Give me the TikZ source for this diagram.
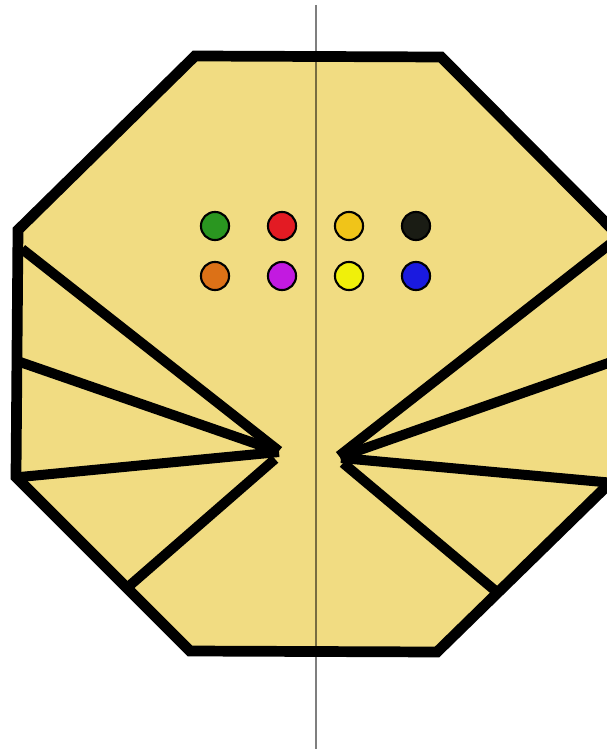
\documentclass[tikz,border=0pt]{standalone}
\definecolor{paper}{HTML}{F1DC82}
\definecolor{cgreen}{HTML}{2A9620}
\definecolor{cred}{HTML}{E31B23}
\definecolor{cgold}{HTML}{F0C419}
\definecolor{cblack}{HTML}{1A1C14}
\definecolor{corange}{HTML}{DC7117}
\definecolor{cmagenta}{HTML}{C21AE0}
\definecolor{cyellow}{HTML}{F0F00A}
\definecolor{cblue}{HTML}{1A1AE0}
\begin{document}
\begin{tikzpicture}[x=0.02cm,y=-0.02cm,
    edge/.style={line width=6.1pt,line join=miter},
    fold/.style={line width=5.7pt},
    dot/.style={circle,draw=black,line width=1.2pt,minimum size=16pt,inner sep=0pt}]
    \useasboundingbox (0,0) rectangle (607,749);
    \clip (0,0) rectangle (607,749);
    % paper
    \fill[paper] (195,56) -- (441,57) -- (615,232) -- (614,479) -- (437,652) -- (190,651) -- (16,477) -- (18,230) -- cycle;
    % centre line
    \draw[black,opacity=0.5,line width=1.4pt] (316,5) -- (316,749);
    % left fan
    \draw[fold] (279,451) -- (22,249);
    \draw[fold] (277,451) -- (20,362);
    \draw[fold] (279,452) -- (20,477);
    \draw[fold] (275,459) -- (128,587);
    % right fan
    \draw[fold] (339,456) -- (614,241);
    \draw[fold] (340,457) -- (614,361);
    \draw[fold] (341,458) -- (614,483);
    \draw[fold] (343,463) -- (498,593);
    % outline
    \draw[edge] (195,56) -- (441,57) -- (615,232) -- (614,479) -- (437,652) -- (190,651) -- (16,477) -- (18,230) -- cycle;
    % dots
    \node[dot,fill=cgreen] (green) at (215,226) {};
    \node[dot,fill=cred] (red) at (282,226) {};
    \node[dot,fill=cgold] (gold) at (349,226) {};
    \node[dot,fill=cblack] (black) at (416,226) {};
    \node[dot,fill=corange] (orange) at (215,276) {};
    \node[dot,fill=cmagenta] (magenta) at (282,276) {};
    \node[dot,fill=cyellow] (yellow) at (349,276) {};
    \node[dot,fill=cblue] (blue) at (416,276) {};
\end{tikzpicture}
\end{document}
